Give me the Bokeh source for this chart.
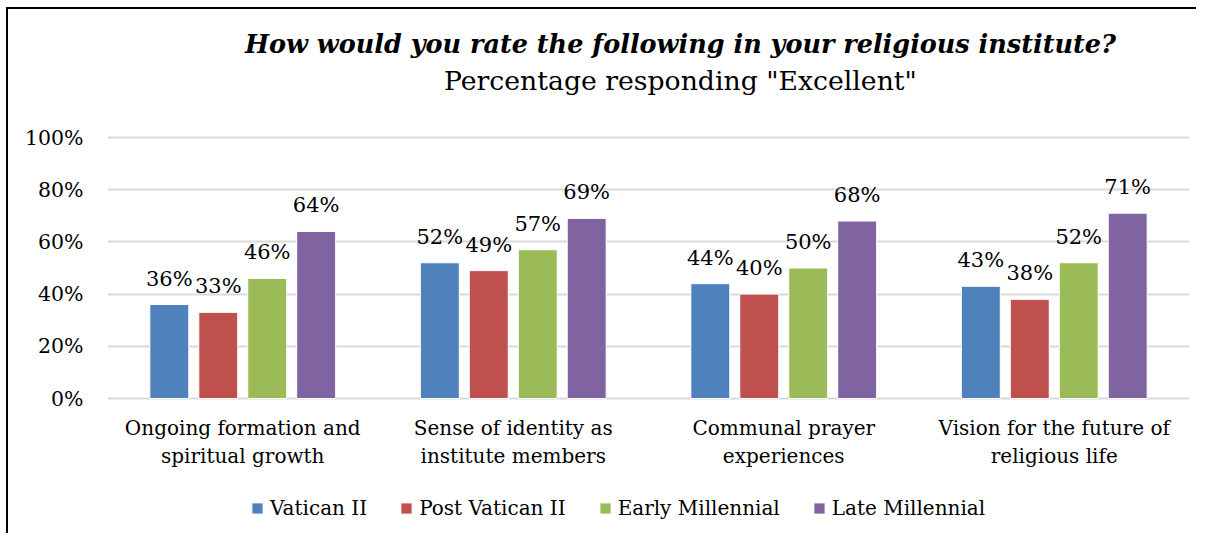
from bokeh.plotting import figure
from bokeh.models import (ColumnDataSource, FixedTicker, PrintfTickFormatter, Legend,
                          LegendItem, Label, Range1d)
from bokeh.transform import dodge
from bokeh.core.properties import value
from bokeh.embed import file_html
from bokeh.resources import INLINE

# ---------------- data ----------------
categories = ["Ongoing formation and\nspiritual growth",
              "Sense of identity as\ninstitute members",
              "Communal prayer\nexperiences",
              "Vision for the future of\nreligious life"]
series = ["Vatican II", "Post Vatican II", "Early Millennial", "Late Millennial"]
vatican_ii = [36, 52, 44, 43]
post_vatican_ii = [33, 49, 40, 38]
early_millennial = [46, 57, 50, 52]
late_millennial = [64, 69, 68, 71]
y_ticks = [0, 20, 40, 60, 80, 100]
title_text = "How would you rate the following in your religious institute?"
subtitle_text = 'Percentage responding "Excellent"'

# ---------------- style ----------------
colors = ["#4F81BD", "#C0504D", "#9BBB59", "#8064A2"]
FONT = "DejaVu Serif"
W, H = 1190, 526
PX = 2.61          # pixels per percentage point
ZERO_Y = 389       # canvas y of the 0% line
PITCH = 0.181
BAR_W = 0.144

p = figure(width=W, height=H, output_backend="svg", toolbar_location=None,
           x_range=Range1d(0, 4),
           y_range=Range1d(-(H - ZERO_Y) / PX, ZERO_Y / PX),
           min_border=0, min_border_left=99, min_border_right=9)
p.styles = {"margin-left": "8px", "margin-top": "9px",
            "box-shadow": "-2px -2px 0px 0px #000000"}
p.outline_line_color = None
p.background_fill_color = "white"
p.border_fill_color = "white"

p.xaxis.visible = False
p.xgrid.visible = False
p.ygrid.ticker = FixedTicker(ticks=y_ticks)
p.ygrid.grid_line_color = "#D9D9D9"
p.ygrid.grid_line_width = 2

yax = p.yaxis[0]
yax.ticker = FixedTicker(ticks=y_ticks)
yax.formatter = PrintfTickFormatter(format="%d%%")
yax.axis_line_color = None
yax.major_tick_line_color = None
yax.minor_tick_line_color = None
yax.major_tick_out = 0
yax.major_tick_in = 0
yax.major_label_standoff = 24
yax.major_label_text_font = FONT
yax.major_label_text_font_size = "20.5px"
yax.major_label_text_color = "#000000"

values = [vatican_ii, post_vatican_ii, early_millennial, late_millennial]
data = dict(x=[i + 0.5 for i in range(len(categories))], cat=categories)
for i, v in enumerate(values):
    data[f"s{i}"] = v
    data[f"l{i}"] = [f"{a}%" for a in v]
src = ColumnDataSource(data)

items = []
for i, name in enumerate(series):
    off = (i - 1.5) * PITCH
    r = p.vbar(x=dodge("x", off, range=p.x_range), top=f"s{i}", width=BAR_W,
               source=src, fill_color=colors[i], line_color="white", line_width=1)
    p.text(x=dodge("x", off, range=p.x_range), y=f"s{i}", text=f"l{i}", source=src,
           text_align="center", text_baseline="alphabetic", y_offset=-26,
           text_font=value(FONT), text_font_size="21px", text_color="#000000")
    items.append(LegendItem(label=name, renderers=[r]))

p.text(x="x", y=0, text="cat", source=src, y_offset=17,
       text_align="center", text_baseline="top", text_line_height=1.2,
       text_font=value(FONT), text_font_size="20px", text_color="#000000")

legend = Legend(items=items, orientation="horizontal", location=(143, 22 - (533 - H)),
                padding=0, margin=0, spacing=32, label_standoff=6,
                glyph_width=14, glyph_height=14,
                label_text_font=FONT, label_text_font_size="20px",
                label_text_color="#000000",
                border_line_color=None, background_fill_alpha=0)
p.add_layout(legend, "center")

p.add_layout(Label(x=2.118, y=(ZERO_Y - 34) / PX, text=title_text,
                   text_align="center", text_baseline="middle",
                   text_font=FONT, text_font_style="bold italic",
                   text_font_size="25.5px", text_color="#000000"))
p.add_layout(Label(x=2.118, y=(ZERO_Y - 71) / PX, text=subtitle_text,
                   text_align="center", text_baseline="middle",
                   text_font=FONT, text_font_size="26.7px", text_color="#000000"))

open("out.html", "w").write(file_html(p, INLINE))
